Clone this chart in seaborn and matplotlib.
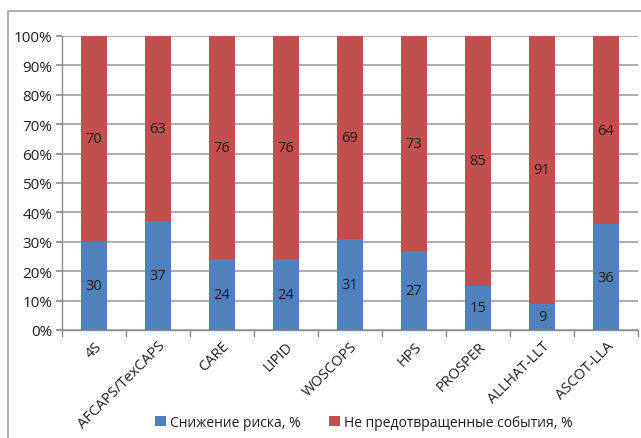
import matplotlib
matplotlib.use("Agg")
import matplotlib.pyplot as plt
import seaborn as sns
import pandas as pd
from matplotlib.patches import Rectangle, Patch
from matplotlib.ticker import FixedLocator

categories = ["4S", "AFCAPS/TexCAPS", "CARE", "LIPID", "WOSCOPS", "HPS",
              "PROSPER", "ALLHAT-LLT", "ASCOT-LLA"]
risk_reduction = [30, 37, 24, 24, 31, 27, 15, 9, 36]
not_prevented = [70, 63, 76, 76, 69, 73, 85, 91, 64]
series_names = ["Снижение риска, %", "Не предотвращенные события, %"]
ytick_values = list(range(0, 101, 10))
ytick_labels = [f"{v}%" for v in ytick_values]

BLUE = "#4F81BD"
RED = "#C0504D"
GRID = "#A0A0A0"
TXT = "#1F1F1F"

sns.set_theme(style="white")
plt.rcParams["font.family"] = ["Open Sans", "DejaVu Sans"]

df = pd.DataFrame({"cat": categories,
                   "blue": risk_reduction,
                   "red": not_prevented})
df["total"] = df["blue"] + df["red"]

fig = plt.figure(figsize=(6.41, 4.39), dpi=100)
ax = fig.add_axes([62/641, 1-331/439, 576/641, 294/439])

sns.barplot(data=df, x="cat", y="total", color=RED, saturation=1,
            width=0.41, ax=ax, zorder=3, linewidth=0, edgecolor=RED)
sns.barplot(data=df, x="cat", y="blue", color=BLUE, saturation=1,
            width=0.41, ax=ax, zorder=3, linewidth=0, edgecolor=BLUE)

red_patches = ax.containers[0]
blue_patches = ax.containers[1]
for i, (bp, rp) in enumerate(zip(blue_patches, red_patches)):
    xc = bp.get_x() + bp.get_width() / 2
    ax.text(xc, risk_reduction[i] / 2, str(risk_reduction[i]), ha="center",
            va="center", fontsize=10.5, color=TXT, zorder=5)
    ax.text(xc, risk_reduction[i] + not_prevented[i] / 2, str(not_prevented[i]),
            ha="center", va="center", fontsize=10.5, color=TXT, zorder=5)

ax.set_xlim(-0.5, len(categories) - 0.5)
ax.set_ylim(0, 100)
ax.set_yticks(ytick_values, ytick_labels)
ax.yaxis.grid(True, color=GRID, linewidth=1.2, zorder=0)
ax.set_axisbelow(True)
ax.set_xlabel("")
ax.set_ylabel("")

for s in ["top", "right"]:
    ax.spines[s].set_visible(False)
for s in ["left", "bottom"]:
    ax.spines[s].set_color("#8C8C8C")
    ax.spines[s].set_linewidth(1)

ax.tick_params(axis="y", which="major", length=4, color="#8C8C8C",
               labelsize=11, labelcolor=TXT, pad=3, left=True)
ax.tick_params(axis="x", which="major", length=0, labelsize=10.5,
               labelcolor=TXT, pad=6)
ax.xaxis.set_minor_locator(FixedLocator([i - 0.5 for i in range(len(categories) + 1)]))
ax.tick_params(axis="x", which="minor", length=5, color="#8C8C8C", bottom=True)
for lbl in ax.get_xticklabels():
    lbl.set_rotation(45)
    lbl.set_ha("right")
    lbl.set_rotation_mode("anchor")

handles = [Patch(facecolor=BLUE, edgecolor="none"),
           Patch(facecolor=RED, edgecolor="none")]
fig.legend(handles, series_names, loc="center", ncol=2,
           bbox_to_anchor=(364/641, 1-423.5/439), frameon=False, fontsize=10,
           handlelength=0.8, handleheight=0.8, handletextpad=0.3,
           columnspacing=2.0, labelcolor=TXT, borderpad=0)

fig.patches.append(Rectangle((8/641, -0.1), 1.2, (439-12)/439 + 0.1,
                             transform=fig.transFigure, fill=False,
                             edgecolor="#A0A0A0", linewidth=1.2, zorder=0))

fig.savefig("out.png", dpi=100, facecolor="white")
